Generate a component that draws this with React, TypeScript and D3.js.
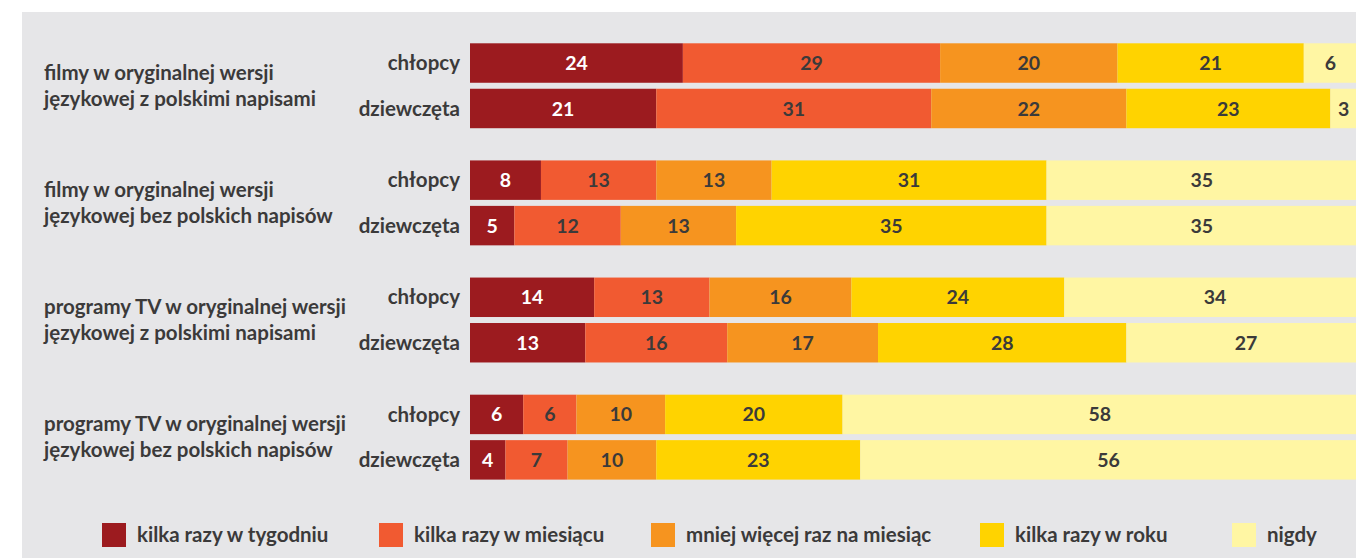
import React from 'react'
import * as d3 from 'd3'

// categories (two text lines each), genders and frequency series
const categories = [
  ['filmy w oryginalnej wersji', 'językowej z polskimi napisami'],
  ['filmy w oryginalnej wersji', 'językowej bez polskich napisów'],
  ['programy TV w oryginalnej wersji', 'językowej z polskimi napisami'],
  ['programy TV w oryginalnej wersji', 'językowej bez polskich napisów']
]
const genders = ['chłopcy', 'dziewczęta']
const seriesNames = [
  'kilka razy w tygodniu',
  'kilka razy w miesiącu',
  'mniej więcej raz na miesiąc',
  'kilka razy w roku',
  'nigdy'
]
// values per category, [chłopcy, dziewczęta], in series order
const filmyZNapisami = [[24, 29, 20, 21, 6], [21, 31, 22, 23, 3]]
const filmyBezNapisow = [[8, 13, 13, 31, 35], [5, 12, 13, 35, 35]]
const tvZNapisami = [[14, 13, 16, 24, 34], [13, 16, 17, 28, 27]]
const tvBezNapisow = [[6, 6, 10, 20, 58], [4, 7, 10, 23, 56]]
const values = [filmyZNapisami, filmyBezNapisow, tvZNapisami, tvBezNapisow]

const colors = ['#9c1b1f', '#f15a31', '#f6941f', '#ffd300', '#fff6a3']
const legendX = [102, 379, 651, 980, 1232]

const W = 1356
const H = 558
const font = 'Lato, "Open Sans", sans-serif'
const textColor = '#3b3a3a'
const labelSize = 20.5

export default function App () {
  const x = d3.scaleLinear().domain([0, 100]).range([470, 1357])
  const yGroup = d3.scaleBand<number>()
    .domain(d3.range(categories.length))
    .range([43.3, 479.6])
    .paddingInner(0.275)
  const yInner = d3.scaleBand<string>()
    .domain(genders)
    .range([0, yGroup.bandwidth()])
    .paddingInner(0.132)

  const stack = d3.stack<number[], number>()
    .keys(d3.range(seriesNames.length))
    .value((d, k) => d[k])

  return (
    <div style={{ position: 'absolute', left: 0, top: 0 }}>
      <svg width={W} height={H} style={{ display: 'block', fontFamily: font }}>
        <rect x={0} y={0} width={W} height={H} fill='#ffffff' />
        <rect x={22} y={12} width={W - 22} height={H - 12} fill='#e6e6e8' />

        {categories.map((lines, gi) => {
          const g0 = yGroup(gi)!
          const stacked = stack(values[gi])
          return (
            <g key={gi}>
              {lines.map((ln, li) => (
                <text key={li} x={44} y={g0 + yGroup.bandwidth() / 2 - 13 + li * 26}
                  dy='0.35em' fontSize={labelSize} fontWeight={700} fill={textColor}>{ln}</text>
              ))}
              {genders.map((gname, ri) => {
                const y0 = g0 + yInner(gname)!
                const h = yInner.bandwidth()
                return (
                  <g key={gname}>
                    <text x={460} y={y0 + h / 2} dy='0.35em' textAnchor='end'
                      fontSize={labelSize} fontWeight={700} fill={textColor}>{gname}</text>
                    {stacked.map((s, si) => {
                      const d = s[ri]
                      const x0 = x(d[0])
                      const x1 = x(d[1])
                      return (
                        <g key={si}>
                          <rect x={x0} y={y0} width={x1 - x0} height={h} fill={colors[si]} />
                          <text x={(x0 + x1) / 2} y={y0 + h / 2} dy='0.36em' textAnchor='middle'
                            fontSize={19.5} fontWeight={700}
                            fill={si === 0 ? '#ffffff' : textColor}>{values[gi][ri][si]}</text>
                        </g>
                      )
                    })}
                  </g>
                )
              })}
            </g>
          )
        })}

        {seriesNames.map((name, i) => (
          <g key={name} transform={`translate(${legendX[i]},523)`}>
            <rect x={0} y={0} width={24} height={24} fill={colors[i]} />
            <text x={35} y={12} dy='0.35em' fontSize={labelSize} fontWeight={700} fill={textColor}>{name}</text>
          </g>
        ))}
      </svg>
    </div>
  )
}
